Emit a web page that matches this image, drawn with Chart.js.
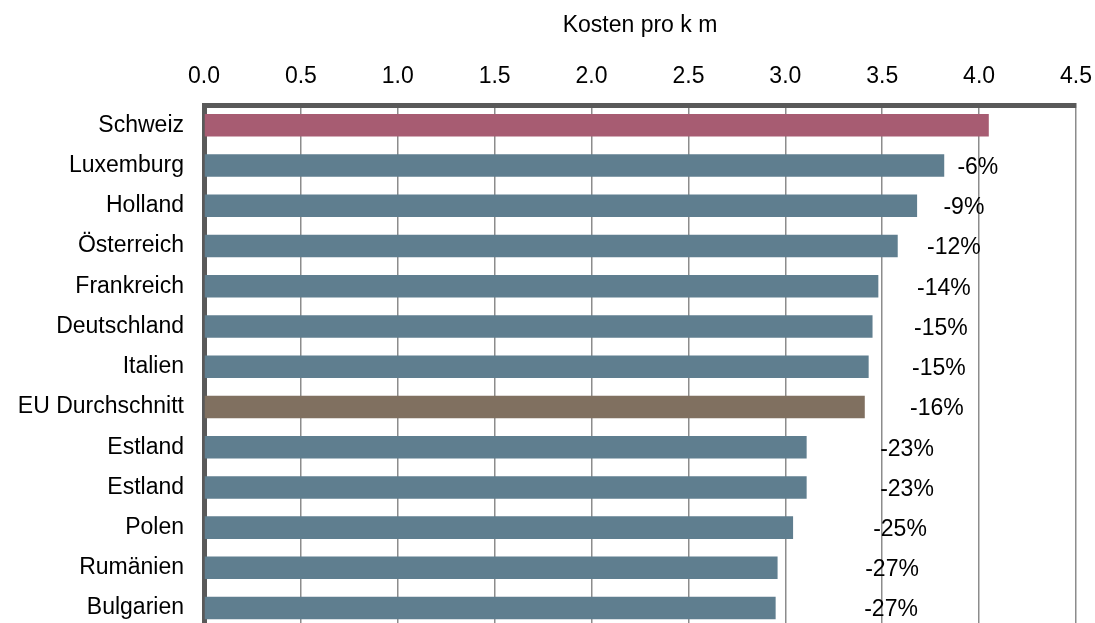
<!DOCTYPE html>
<html lang="de">
<head>
    <meta charset="UTF-8">
    <title>Kosten pro km</title>
    <script src="https://cdn.jsdelivr.net/npm/chart.js"></script>
    <style>
        html, body { margin: 0; padding: 0; background: #fff; overflow: hidden; }
        /* taller than the window: the bottom frame line is cut off like in the original */
        .chart-box { position: relative; width: 1095px; height: 662px; }
    </style>
</head>
<body>
    <div class="chart-box">
        <canvas id="costChart"></canvas>
    </div>

    <script>
        const categories = ['Schweiz', 'Luxemburg', 'Holland', 'Österreich', 'Frankreich', 'Deutschland',
            'Italien', 'EU Durchschnitt', 'Estland', 'Estland', 'Polen', 'Rumänien', 'Bulgarien'];
        const costs = [4.05, 3.82, 3.68, 3.58, 3.48, 3.45, 3.43, 3.41, 3.11, 3.11, 3.04, 2.96, 2.95];
        const diffLabels = ['', '-6%', '-9%', '-12%', '-14%', '-15%', '-15%', '-16%', '-23%', '-23%', '-25%', '-27%', '-27%'];
        const axisTitle = 'Kosten pro k m';

        const fontFamily = '"Liberation Sans", Arial, sans-serif';

        function barColor(name) {
            if (name === 'Schweiz') return '#a75c72';
            if (name === 'EU Durchschnitt') return '#807060';
            return '#5f7e8f';
        }

        // percentage labels right of the bars
        const diffLabelPlugin = {
            id: 'diffLabels',
            afterDatasetsDraw(chart) {
                const ctx = chart.ctx;
                const xScale = chart.scales.x;
                const meta = chart.getDatasetMeta(0);
                ctx.save();
                ctx.font = '23px ' + fontFamily;
                ctx.fillStyle = '#000';
                ctx.textAlign = 'center';
                ctx.textBaseline = 'middle';
                meta.data.forEach((bar, i) => {
                    if (!diffLabels[i]) return;
                    const v = costs[i];
                    const x = xScale.getPixelForValue(v + (costs[0] - v) * 0.485) + 12;
                    ctx.fillText(diffLabels[i], x, bar.y + 2);
                });
                ctx.restore();
            }
        };

        const ctx = document.getElementById('costChart').getContext('2d');
        const costChart = new Chart(ctx, {
            type: 'bar',
            data: {
                labels: categories,
                datasets: [{
                    data: costs,
                    backgroundColor: categories.map(barColor),
                    borderWidth: 0,
                    barPercentage: 0.56,
                    categoryPercentage: 1.0
                }]
            },
            options: {
                indexAxis: 'y',
                responsive: true,
                maintainAspectRatio: false,
                animation: false,
                layout: {
                    autoPadding: false,
                    padding: { top: 0, right: 19, bottom: 4, left: 0 }
                },
                plugins: {
                    legend: { display: false },
                    tooltip: { enabled: false }
                },
                scales: {
                    x: {
                        position: 'top',
                        min: 0,
                        max: 4.5,
                        ticks: {
                            stepSize: 0.5,
                            padding: 15,
                            color: '#000',
                            font: { family: fontFamily, size: 23 },
                            callback: value => Number(value).toFixed(1)
                        },
                        grid: { color: '#8c8c8c', lineWidth: 1.5, drawTicks: false },
                        border: { color: '#595959', width: 5 },
                        title: {
                            display: true,
                            text: axisTitle,
                            color: '#000',
                            font: { family: fontFamily, size: 23 },
                            padding: { top: 12, bottom: 8 }
                        },
                        afterFit: scale => {
                            scale.paddingLeft = 0;
                            scale.paddingRight = 0;
                        }
                    },
                    y: {
                        ticks: { padding: 20, color: '#000', font: { family: fontFamily, size: 23 } },
                        grid: { display: false, drawTicks: false },
                        border: { color: '#595959', width: 5 },
                        afterFit: scale => { scale.width = 204; }
                    }
                }
            },
            plugins: [diffLabelPlugin]
        });
    </script>
</body>
</html>
